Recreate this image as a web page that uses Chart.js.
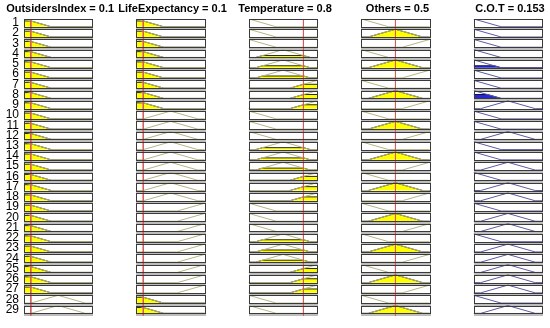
<!DOCTYPE html>
<html>
<head>
<meta charset="utf-8">
<script src="https://cdn.jsdelivr.net/npm/chart.js@4.4.1/dist/chart.umd.min.js"></script>
<style>
  html, body { margin: 0; padding: 0; background: #fff; }
  #wrap { width: 550px; height: 328px; }
</style>
</head>
<body>
<div id="wrap"><canvas id="ruleChart" width="550" height="328"></canvas></div>
<script>
/* ── DATA ─────────────────────────────────── */
const ruleNumbers = [1,2,3,4,5,6,7,8,9,10,11,12,13,14,15,16,17,18,19,20,21,22,23,24,25,26,27,28,29];
const titles = ['OutsidersIndex = 0.1', 'LifeExpectancy = 0.1', 'Temperature = 0.8', 'Others = 0.5', 'C.O.T = 0.153'];
const inputValues = [0.1, 0.1, 0.8, 0.5];

// membership functions on [0, 1]: 0 = low, 1 = mid, 2 = high
const mfLow  = [[0, 1], [0.4, 0], [1, 0]];
const mfMid  = [[0, 0], [0.1, 0], [0.5, 1], [0.9, 0], [1, 0]];
const mfHigh = [[0, 0], [0.6, 0], [1, 1]];

// which membership function each rule uses, per column
const outsidersRule = [0,0,0,0,0,0,0,0,0, 0,0,0,0,0,0,0,0,0, 0,0,0,0,0,0,0,0,0, 1,1];
const lifeRule      = [0,0,0,0,0,0,0,0,0, 1,1,1,1,1,1,1,1,1, 2,2,2,2,2,2,2,2,2, 0,0];
const tempRule      = [0,0,0,1,1,1,2,2,2, 0,0,0,1,1,1,2,2,2, 0,0,0,1,1,1,2,2,2, 0,0];
const othersRule    = [0,1,2,0,1,2,0,1,2, 0,1,2,0,1,2,0,1,2, 0,1,2,0,1,2,0,1,2, 0,1];
const cotRule       = [0,0,0,0,0,0,0,0,1, 0,0,1,0,0,1,0,1,1, 0,1,1,0,1,1,1,1,1, 0,1];

// degree of low / mid / high at the current input
const outsidersDegree = [0.75, 0, 0];
const lifeDegree      = [0.75, 0, 0];
const tempDegree      = [0, 0.25, 0.5];
const othersDegree    = [0, 1, 0];

// firing strength of each rule (shown on the output column)
const ruleStrength = [0,0,0,0,0.25,0,0,0.5,0, 0,0,0,0,0,0,0,0,0, 0,0,0,0,0,0,0,0,0, 0,0];

/* ── LAYOUT / STYLE ───────────────────────── */
const COL_STEP = 1.65;     // column spacing in x units (box width = 1)
const BOX_H = 0.76;        // box height in row units
const FONT = "'Liberation Sans', Arial, sans-serif";
const mfShapes = [mfLow, mfMid, mfHigh];
const colRules = [outsidersRule, lifeRule, tempRule, othersRule, cotRule];
const colDegrees = [outsidersDegree, lifeDegree, tempDegree, othersDegree];

function clipShape(pts, h) {
    const out = [];
    for (let i = 0; i < pts.length; i++) {
        const [x, y] = pts[i];
        if (i > 0) {
            const [px, py] = pts[i - 1];
            if ((py - h) * (y - h) < 0) {
                const t = (h - py) / (y - py);
                out.push([px + t * (x - px), h]);
            }
        }
        out.push([x, Math.min(y, h)]);
    }
    return out;
}

function toPoints(col, row, pts) {
    return pts.map(([x, m]) => ({ x: col * COL_STEP + x, y: row + BOX_H * (1 - m) }));
}

const datasets = [];
colRules.forEach((rules, c) => {
    const isOut = c === 4;
    rules.forEach((mf, r) => {
        const shape = mfShapes[mf];
        const level = isOut ? ruleStrength[r] : colDegrees[c][mf];
        if (level > 0) {
            datasets.push({
                data: toPoints(c, r, clipShape(shape, level)),
                showLine: true, pointRadius: 0, order: 2,
                borderColor: isOut ? '#101050' : '#2a2a10', borderWidth: 1,
                backgroundColor: isOut ? '#2828d8' : '#ffff00',
                fill: { value: r + BOX_H }
            });
        }
        datasets.push({
            data: toPoints(c, r, shape),
            showLine: true, pointRadius: 0, order: 1, fill: false,
            borderColor: isOut ? '#5c5ca4' : '#b6b684', borderWidth: 1
        });
    });
});

inputValues.forEach((v, c) => {
    datasets.push({
        data: [{ x: c * COL_STEP + v, y: 0 }, { x: c * COL_STEP + v, y: 29 }],
        showLine: true, pointRadius: 0, order: 0, fill: false,
        borderColor: '#d85a5a', borderWidth: 1
    });
});

/* ── CELL BOXES ───────────────────────────── */
const cellBoxes = {
    id: 'cellBoxes',
    beforeDatasetsDraw(chart) {
        const { ctx, scales: { x, y } } = chart;
        ctx.save();
        for (let c = 0; c < 5; c++) {
            const l = Math.round(x.getPixelForValue(c * COL_STEP));
            const rt = Math.round(x.getPixelForValue(c * COL_STEP + 1));
            for (let r = 0; r < 29; r++) {
                const t = Math.round(y.getPixelForValue(r));
                const b = Math.round(y.getPixelForValue(r + BOX_H));
                const n = Math.round(y.getPixelForValue(r + 1));
                ctx.fillStyle = '#fff';
                ctx.fillRect(l, t, rt - l, b - t);
                ctx.fillStyle = '#bdbdbd';
                ctx.fillRect(l, b, rt - l + 1, n - b);
            }
        }
        ctx.restore();
    },
    afterDatasetsDraw(chart) {
        const { ctx, scales: { x, y } } = chart;
        ctx.save();
        ctx.strokeStyle = '#3a3a3a';
        ctx.lineWidth = 1;
        for (let c = 0; c < 5; c++) {
            const l = Math.round(x.getPixelForValue(c * COL_STEP));
            const rt = Math.round(x.getPixelForValue(c * COL_STEP + 1));
            for (let r = 0; r < 29; r++) {
                const t = Math.round(y.getPixelForValue(r));
                const b = Math.round(y.getPixelForValue(r + BOX_H));
                ctx.strokeRect(l + 0.5, t + 0.5, rt - l, b - t);
            }
        }
        ctx.restore();
    }
};

new Chart(document.getElementById('ruleChart'), {
    type: 'scatter',
    data: { datasets },
    options: {
        responsive: false,
        animation: false,
        devicePixelRatio: 1,
        layout: { padding: { left: 0, right: 8, top: 0, bottom: 4 } },
        plugins: { legend: { display: false }, tooltip: { enabled: false } },
        scales: {
            x: { type: 'linear', min: 0, max: 4 * COL_STEP + 1, display: false },
            xTitle: {
                type: 'linear', position: 'top', min: 0, max: 4 * COL_STEP + 1,
                grid: { display: false, drawTicks: false }, border: { display: false },
                afterBuildTicks: s => { s.ticks = titles.map((t, i) => ({ value: i * COL_STEP + 0.53 })); },
                afterFit: s => { s.height = 19; },
                ticks: {
                    autoSkip: false, maxRotation: 0, minRotation: 0, padding: 3,
                    color: '#000', font: { family: FONT, size: 11, weight: 'bold' },
                    callback: (v, i) => titles[i]
                }
            },
            y: {
                type: 'linear', reverse: true, min: 0, max: 29,
                grid: { display: false, drawTicks: false }, border: { display: false },
                afterBuildTicks: s => { s.ticks = ruleNumbers.map((n, i) => ({ value: i + BOX_H / 2 })); },
                afterFit: s => { s.width = 24; },
                ticks: {
                    autoSkip: false, padding: 5, color: '#000',
                    font: { family: FONT, size: 12 },
                    callback: (v, i) => ruleNumbers[i]
                }
            }
        }
    },
    plugins: [cellBoxes]
});
</script>
</body>
</html>
